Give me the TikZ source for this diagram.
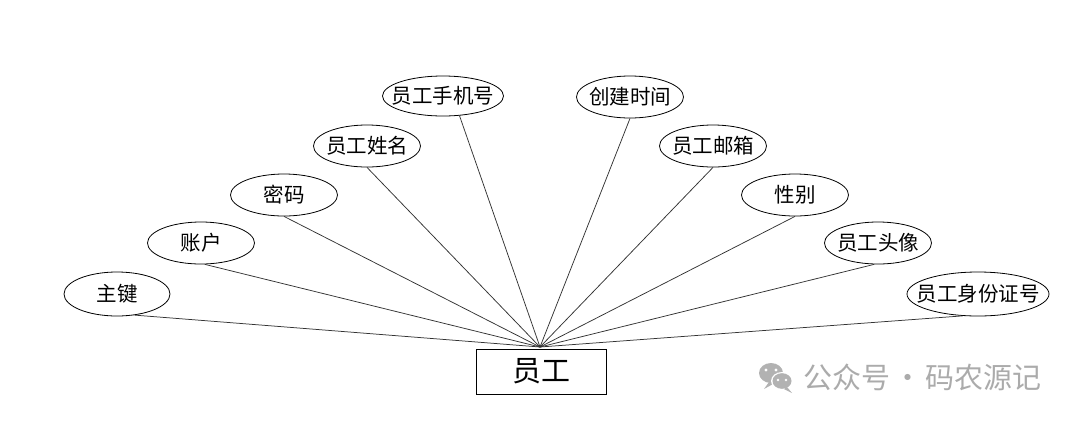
\documentclass[tikz,border=0pt]{standalone}
\usepackage{fontspec}
\setmainfont{Noto Sans CJK SC}
\usetikzlibrary{shapes.geometric}
\begin{document}
\begin{tikzpicture}[x=1pt,y=-1pt,
  attr/.style={ellipse,draw=black,line width=0.8pt,inner ysep=0pt,inner xsep=-30pt,minimum width=107pt,minimum height=42pt,font=\fontsize{20.5}{20.5}\selectfont},
  ent/.style={rectangle,draw=black,line width=0.9pt,inner sep=0pt,minimum width=130pt,minimum height=45pt,font=\fontsize{29}{29}\selectfont},
  link/.style={draw=black!80,line width=0.75pt},
  wm/.style={text=black!33,font=\fontsize{29}{29}\selectfont,inner sep=0pt}]
\useasboundingbox (0,0) rectangle (1080,421);
\node[ent] (emp) at (541,371.5) {员工};
\coordinate (hub) at (540,347);
\node[attr,minimum width=106pt,minimum height=44pt] (a1) at (117,294) {主键};
\node[attr] (a2) at (201,243) {账户};
\node[attr] (a3) at (284,195) {密码};
\node[attr] (a4) at (367,146) {员工姓名};
\node[attr,minimum width=121pt,minimum height=40pt] (a5) at (443,96) {员工手机号};
\node[attr] (a6) at (630,97) {创建时间};
\node[attr] (a7) at (713,146) {员工邮箱};
\node[attr] (a8) at (795,195) {性别};
\node[attr] (a9) at (878,243) {员工头像};
\node[attr,minimum width=142pt,minimum height=44pt] (a10) at (978,294) {员工身份证号};
\draw[link] (a1.-50) -- (hub);
\draw[link] (a2.-80) -- (hub);
\draw[link] (a3.south) -- (hub);
\draw[link] (a4.south) -- (hub);
\draw[link] (a5.-50) -- (hub);
\draw[link] (a6.south) -- (hub);
\draw[link] (a7.south) -- (hub);
\draw[link] (a8.south) -- (hub);
\draw[link] (a9.-100) -- (hub);
\draw[link] (a10.-125) -- (hub);
% watermark
\fill[black!30] (771,373) ellipse (12pt and 10pt);
\fill[black!30] (769,382) -- (764,389) -- (775,383) -- cycle;
\fill[white] (782,381) ellipse (11pt and 9pt);
\fill[black!30] (782,381) ellipse (9.5pt and 7.8pt);
\fill[black!30] (787,387) -- (792,393) -- (784,389) -- cycle;
\fill[white] (766,370) circle (1.6pt) (776,370) circle (1.6pt) (778,380) circle (1.3pt) (786,380) circle (1.3pt);
\node[wm,anchor=base west] (wm1) at (803,388) {公众号};
\node[wm,anchor=base] (wm2) at (908,388) {·};
\node[wm,anchor=base west] (wm3) at (925,388) {码农源记};
\end{tikzpicture}
\end{document}
